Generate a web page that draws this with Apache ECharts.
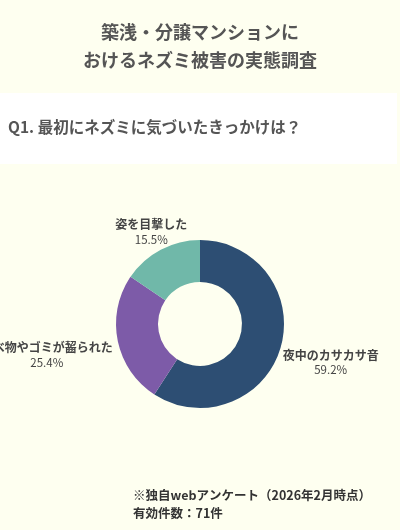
<!DOCTYPE html>
<html lang="ja">
<head>
<meta charset="UTF-8">
<title>ネズミ被害の実態調査</title>
<script src="https://cdn.jsdelivr.net/npm/echarts@6/dist/echarts.min.js"></script>
<style>
  html, body { margin: 0; padding: 0; background: #FEFFF0; }
  #main { width: 400px; height: 530px; }
</style>
</head>
<body>
<div id="main"></div>
<script>
// データ
var categories = ['夜中のカサカサ音', '食べ物やゴミが齧られた', '姿を目撃した'];
var values = [59.2, 25.4, 15.5];
var colors = ['#2D4E73', '#7D5BA8', '#70B8A9'];

var FONT = '"Noto Sans CJK JP", "Noto Sans", sans-serif';
var cx = 200, cy = 324, outerR = 84;

var total = values.reduce(function (a, b) { return a + b; }, 0);

// ラベルを扇の外側に置く（中心角の方向へ、箱の端がoffset離れる位置）
function placeLabel(params) {
    var i = params.dataIndex;
    var before = 0;
    for (var k = 0; k < i; k++) before += values[k];
    var mid = (before + values[i] / 2) / total * Math.PI * 2;
    var dx = Math.sin(mid), dy = -Math.cos(mid);
    var hw = params.labelRect.width / 2, hh = params.labelRect.height / 2;
    var ext = Math.min(Math.abs(dx) > 1e-6 ? hw / Math.abs(dx) : 1e9,
                       Math.abs(dy) > 1e-6 ? hh / Math.abs(dy) : 1e9);
    var d = outerR + 5 + ext;
    return {
        x: cx + dx * d,
        y: cy + dy * d,
        align: 'center',
        verticalAlign: 'middle'
    };
}

var myChart = echarts.init(document.getElementById('main'));
var option = {
    backgroundColor: '#FEFFF0',
    title: {
        text: '築浅・分譲マンションに\nおけるネズミ被害の実態調査',
        left: 'center',
        top: 13,
        textStyle: {
            fontFamily: FONT,
            fontSize: 18,
            fontWeight: 'bold',
            color: '#555555',
            lineHeight: 28
        }
    },
    graphic: [
        {
            type: 'rect',
            shape: { x: 0, y: 93, width: 397, height: 71 },
            style: { fill: '#FFFFFF' },
            z: -1
        },
        {
            type: 'text',
            left: 8,
            top: 119,
            style: {
                text: 'Q1. 最初にネズミに気づいたきっかけは？',
                font: 'bold 15.5px ' + FONT,
                fill: '#555555'
            }
        },
        {
            type: 'text',
            left: 133,
            top: 486,
            style: {
                text: '※独自webアンケート（2026年2月時点）\n有効件数：71件',
                font: 'bold 12.5px ' + FONT,
                lineHeight: 18,
                fill: '#333333'
            }
        }
    ],
    series: [
        {
            type: 'pie',
            center: [cx, cy],
            radius: [42, outerR],
            startAngle: 90,
            clockwise: true,
            silent: true,
            data: categories.map(function (c, i) {
                return { name: c, value: values[i], itemStyle: { color: colors[i] } };
            }),
            label: {
                show: true,
                position: 'outside',
                overflow: 'none',
                formatter: function (p) { return '{n|' + p.name + '}\n{p|' + p.value.toFixed(1) + '%}'; },
                rich: {
                    n: { fontFamily: FONT, fontSize: 12, fontWeight: 'bold', color: '#444444', lineHeight: 15 },
                    p: { fontFamily: FONT, fontSize: 11.5, color: '#444444', lineHeight: 15 }
                }
            },
            labelLine: { show: false },
            labelLayout: placeLabel
        }
    ]
};
myChart.setOption(option);
</script>
</body>
</html>
